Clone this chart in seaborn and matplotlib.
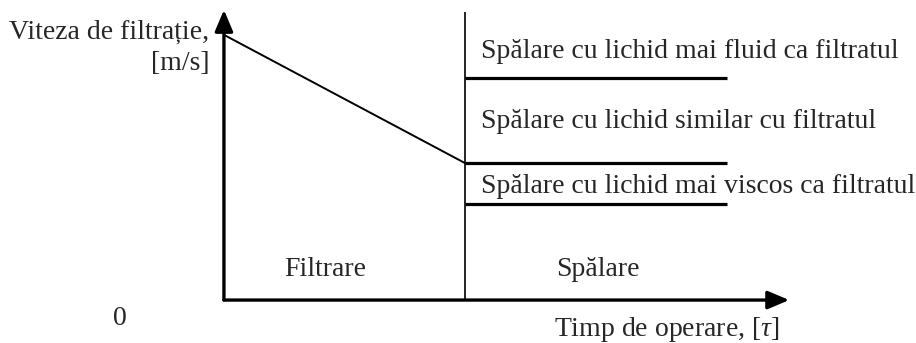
import matplotlib
matplotlib.use("Agg")
import matplotlib.pyplot as plt
import seaborn as sns
import pandas as pd

# filtration stage: velocity falls linearly with time
filt_time = [0.0, 1.0]
filt_speed = [0.914, 0.472]

# washing stage: constant velocity levels (start/end time of each level)
wash_time = [1.0, 2.087]
wash_levels = [0.766, 0.472, 0.331]
wash_labels = [
    "Spălare cu lichid mai fluid ca filtratul",
    "Spălare cu lichid similar cu filtratul",
    "Spălare cu lichid mai viscos ca filtratul",
]
label_y = [0.858, 0.614, 0.393]

stage_names = ["Filtrare", "Spălare"]
stage_x = [0.25, 1.38]

x_axis_end = 2.345
y_axis_end = 1.0

FS = 20


def draw(ax):
    df = pd.DataFrame({"t": filt_time, "v": filt_speed})
    sns.lineplot(data=df, x="t", y="v", ax=ax, color="black", linewidth=1.4)

    # axes with arrow heads
    arrow = dict(arrowstyle="-|>,head_length=1.3,head_width=0.55", color="black",
                 linewidth=2.4, shrinkA=0, shrinkB=0)
    ax.annotate("", xy=(x_axis_end, 0), xytext=(0, 0), arrowprops=arrow)
    ax.annotate("", xy=(0, y_axis_end), xytext=(0, 0), arrowprops=arrow)

    # stage separator
    ax.vlines(filt_time[1], 0, 0.993, color="black", linewidth=1.2)

    # washing levels
    for lvl in wash_levels:
        ax.hlines(lvl, wash_time[0], wash_time[1], color="black", linewidth=2.3)
    for txt, y in zip(wash_labels, label_y):
        ax.text(wash_time[0] + 0.065, y, txt, va="center", ha="left", fontsize=FS)

    for name, x in zip(stage_names, stage_x):
        ax.text(x, 0.105, name, va="center", ha="left", fontsize=FS)

    ax.text(-0.43, -0.065, "0", va="center", ha="center", fontsize=FS)
    ax.text(2.305, -0.1, r"Timp de operare, [$\tau$]",
            va="center", ha="right", fontsize=FS)
    ax.text(-0.06, 0.925, "Viteza de filtrație,", va="center", ha="right", fontsize=FS)
    ax.text(-0.06, 0.815, "[m/s]", va="center", ha="right", fontsize=FS)

    ax.set_xlim(-0.929, 2.871)
    ax.set_ylim(-0.148, 1.034)
    ax.set_axis_off()


if __name__ == "__main__":
    sns.set_style("white")
    plt.rcParams["font.family"] = ["Liberation Serif", "DejaVu Serif"]
    plt.rcParams["mathtext.fontset"] = "custom"
    plt.rcParams["mathtext.it"] = "Liberation Serif:italic"
    fig = plt.figure(figsize=(9.16, 3.43), dpi=100)
    ax = fig.add_axes([0, 0, 1, 1])
    draw(ax)
    fig.savefig("out.png", dpi=100)
